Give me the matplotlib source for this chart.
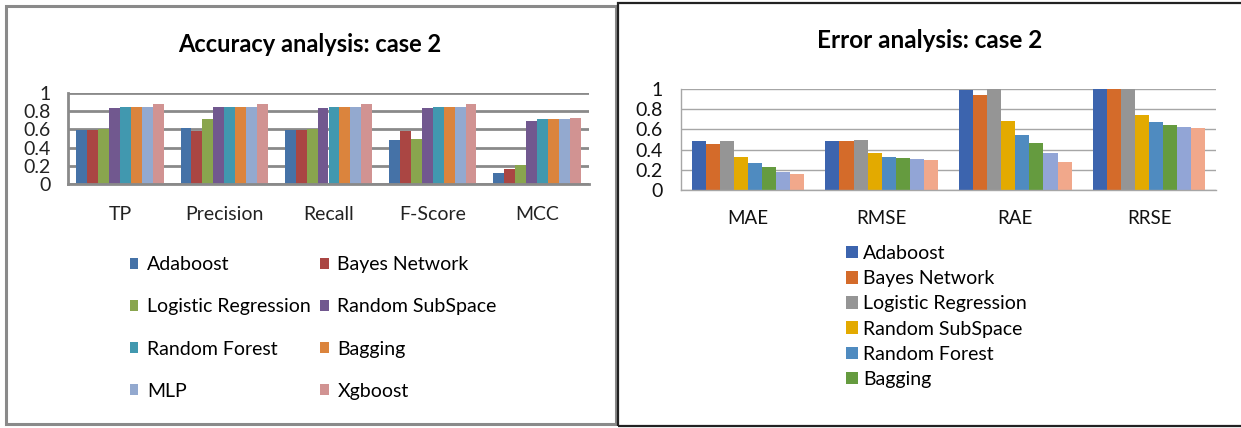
import numpy as np
import matplotlib
matplotlib.use("Agg")
from matplotlib import pyplot as plt
from matplotlib.patches import Rectangle

plt.rcParams['font.family'] = ['Lato', 'DejaVu Sans']

W, H = 1241, 428

models = ['Adaboost', 'Bayes Network', 'Logistic Regression', 'Random SubSpace',
          'Random Forest', 'Bagging', 'MLP', 'Xgboost']

acc_metrics = ['TP', 'Precision', 'Recall', 'F-Score', 'MCC']
acc_values = [
    [0.59, 0.62, 0.59, 0.48, 0.125],   # Adaboost
    [0.59, 0.58, 0.59, 0.58, 0.16],    # Bayes Network
    [0.60, 0.71, 0.60, 0.50, 0.21],    # Logistic Regression
    [0.83, 0.85, 0.83, 0.83, 0.69],    # Random SubSpace
    [0.85, 0.85, 0.85, 0.85, 0.71],    # Random Forest
    [0.85, 0.85, 0.85, 0.85, 0.71],    # Bagging
    [0.85, 0.85, 0.85, 0.85, 0.71],    # MLP
    [0.88, 0.88, 0.88, 0.88, 0.72],    # Xgboost
]

err_metrics = ['MAE', 'RMSE', 'RAE', 'RRSE']
err_values = [
    [0.483, 0.490, 0.990, 0.997],   # Adaboost
    [0.460, 0.490, 0.944, 0.997],   # Bayes Network
    [0.487, 0.493, 0.997, 1.000],   # Logistic Regression
    [0.330, 0.364, 0.680, 0.740],   # Random SubSpace
    [0.265, 0.328, 0.546, 0.670],   # Random Forest
    [0.225, 0.315, 0.464, 0.640],   # Bagging
    [0.175, 0.305, 0.364, 0.626],   # MLP
    [0.160, 0.298, 0.280, 0.610],   # Xgboost
]

yticks = [0, 0.2, 0.4, 0.6, 0.8, 1]
ytick_labels = ['0', '0.2', '0.4', '0.6', '0.8', '1']

acc_colors = ['#4572A7', '#AA4643', '#89A54E', '#71588F',
              '#4198AF', '#DB843D', '#93A9CF', '#D19392']
err_colors = ['#3C64AE', '#D46B2A', '#959595', '#E3AA00',
              '#4F8BC0', '#659B3F', '#92A5D6', '#F1A88B']


def px_axes(fig, x0, x1, ytop, ybot):
    return fig.add_axes([x0 / W, 1 - ybot / H, (x1 - x0) / W, (ybot - ytop) / H])


def grouped_bars(ax, values, colors, span):
    n = len(values)
    bw = span / n
    cats = np.arange(len(values[0]))
    bars = []
    for i, (vals, c) in enumerate(zip(values, colors)):
        off = -span / 2 + bw * (i + 0.5)
        bars.append(ax.bar(cats + off, vals, width=bw, color=c, linewidth=0))
    return bars


fig = plt.figure(figsize=(W / 100, H / 100), dpi=100)

# panel frames
fig.patches.append(Rectangle((6 / W, 1 - 424 / H), 610 / W, 418 / H, transform=fig.transFigure,
                             fill=False, edgecolor='#8A8A8A', linewidth=2.2))
fig.patches.append(Rectangle((617.5 / W, 1 - 426 / H), 640 / W, 423 / H, transform=fig.transFigure,
                             fill=False, edgecolor='#222222', linewidth=1.6))

# accuracy chart
ax1 = px_axes(fig, 68, 589, 93, 184)
bars1 = grouped_bars(ax1, acc_values, acc_colors, 0.84)
ax1.set_xlim(-0.5, len(acc_metrics) - 0.5)
ax1.set_ylim(0, 1)
ax1.set_yticks(yticks)
ax1.set_yticklabels(ytick_labels, fontsize=14, color='#222222')
ax1.set_xticks(range(len(acc_metrics)))
ax1.set_xticklabels(acc_metrics, fontsize=14, color='#222222')
ax1.tick_params(axis='both', length=0)
ax1.tick_params(axis='x', pad=15.5)
ax1.tick_params(axis='y', pad=12.5)
ax1.grid(axis='y', color='#8A8A8A', linewidth=2)
ax1.set_axisbelow(True)
for s in ['top', 'right']:
    ax1.spines[s].set_visible(False)
for s in ['left', 'bottom']:
    ax1.spines[s].set_color('#8A8A8A')
    ax1.spines[s].set_linewidth(2)
fig.text(310 / W, 1 - 45 / H, 'Accuracy analysis: case 2', ha='center', va='center',
         fontsize=17, fontweight='bold')

# two-column legend filled row by row
order = [0, 2, 4, 6, 1, 3, 5, 7]
fig.legend([bars1[i][0] for i in order], [models[i] for i in order], loc='upper left',
           bbox_to_anchor=(130 / W, 1 - 256 / H), ncol=2, frameon=False, fontsize=14,
           handlelength=0.42, handleheight=0.5, handletextpad=0.45,
           labelspacing=1.3, columnspacing=0.5, borderpad=0, borderaxespad=0)

# error chart
ax2 = px_axes(fig, 681, 1216, 89, 190)
bars2 = grouped_bars(ax2, err_values, err_colors, 0.84)
ax2.set_xlim(-0.5, len(err_metrics) - 0.5)
ax2.set_ylim(0, 1)
ax2.set_yticks(yticks)
ax2.set_yticklabels(ytick_labels, fontsize=14, color='#111111')
ax2.set_xticks(range(len(err_metrics)))
ax2.set_xticklabels(err_metrics, fontsize=13.5, color='#111111')
ax2.tick_params(axis='both', length=0)
ax2.tick_params(axis='x', pad=14.5)
ax2.tick_params(axis='y', pad=13.5)
ax2.grid(axis='y', color='#A6A6A6', linewidth=1)
ax2.set_axisbelow(True)
for s in ['top', 'right']:
    ax2.spines[s].set_visible(False)
for s in ['left', 'bottom']:
    ax2.spines[s].set_color('#A6A6A6')
    ax2.spines[s].set_linewidth(1)
fig.text(930 / W, 1 - 40 / H, 'Error analysis: case 2', ha='center', va='center',
         fontsize=17.5, fontweight='bold')
# the legend box only has room for the first six entries
fig.legend([b[0] for b in bars2[:6]], models[:6], loc='upper left',
           bbox_to_anchor=(846 / W, 1 - 245 / H), ncol=1, frameon=False, fontsize=14,
           handlelength=0.62, handleheight=0.62, handletextpad=0.26,
           labelspacing=0.42, borderpad=0, borderaxespad=0)

fig.savefig('out.png', dpi=100)
